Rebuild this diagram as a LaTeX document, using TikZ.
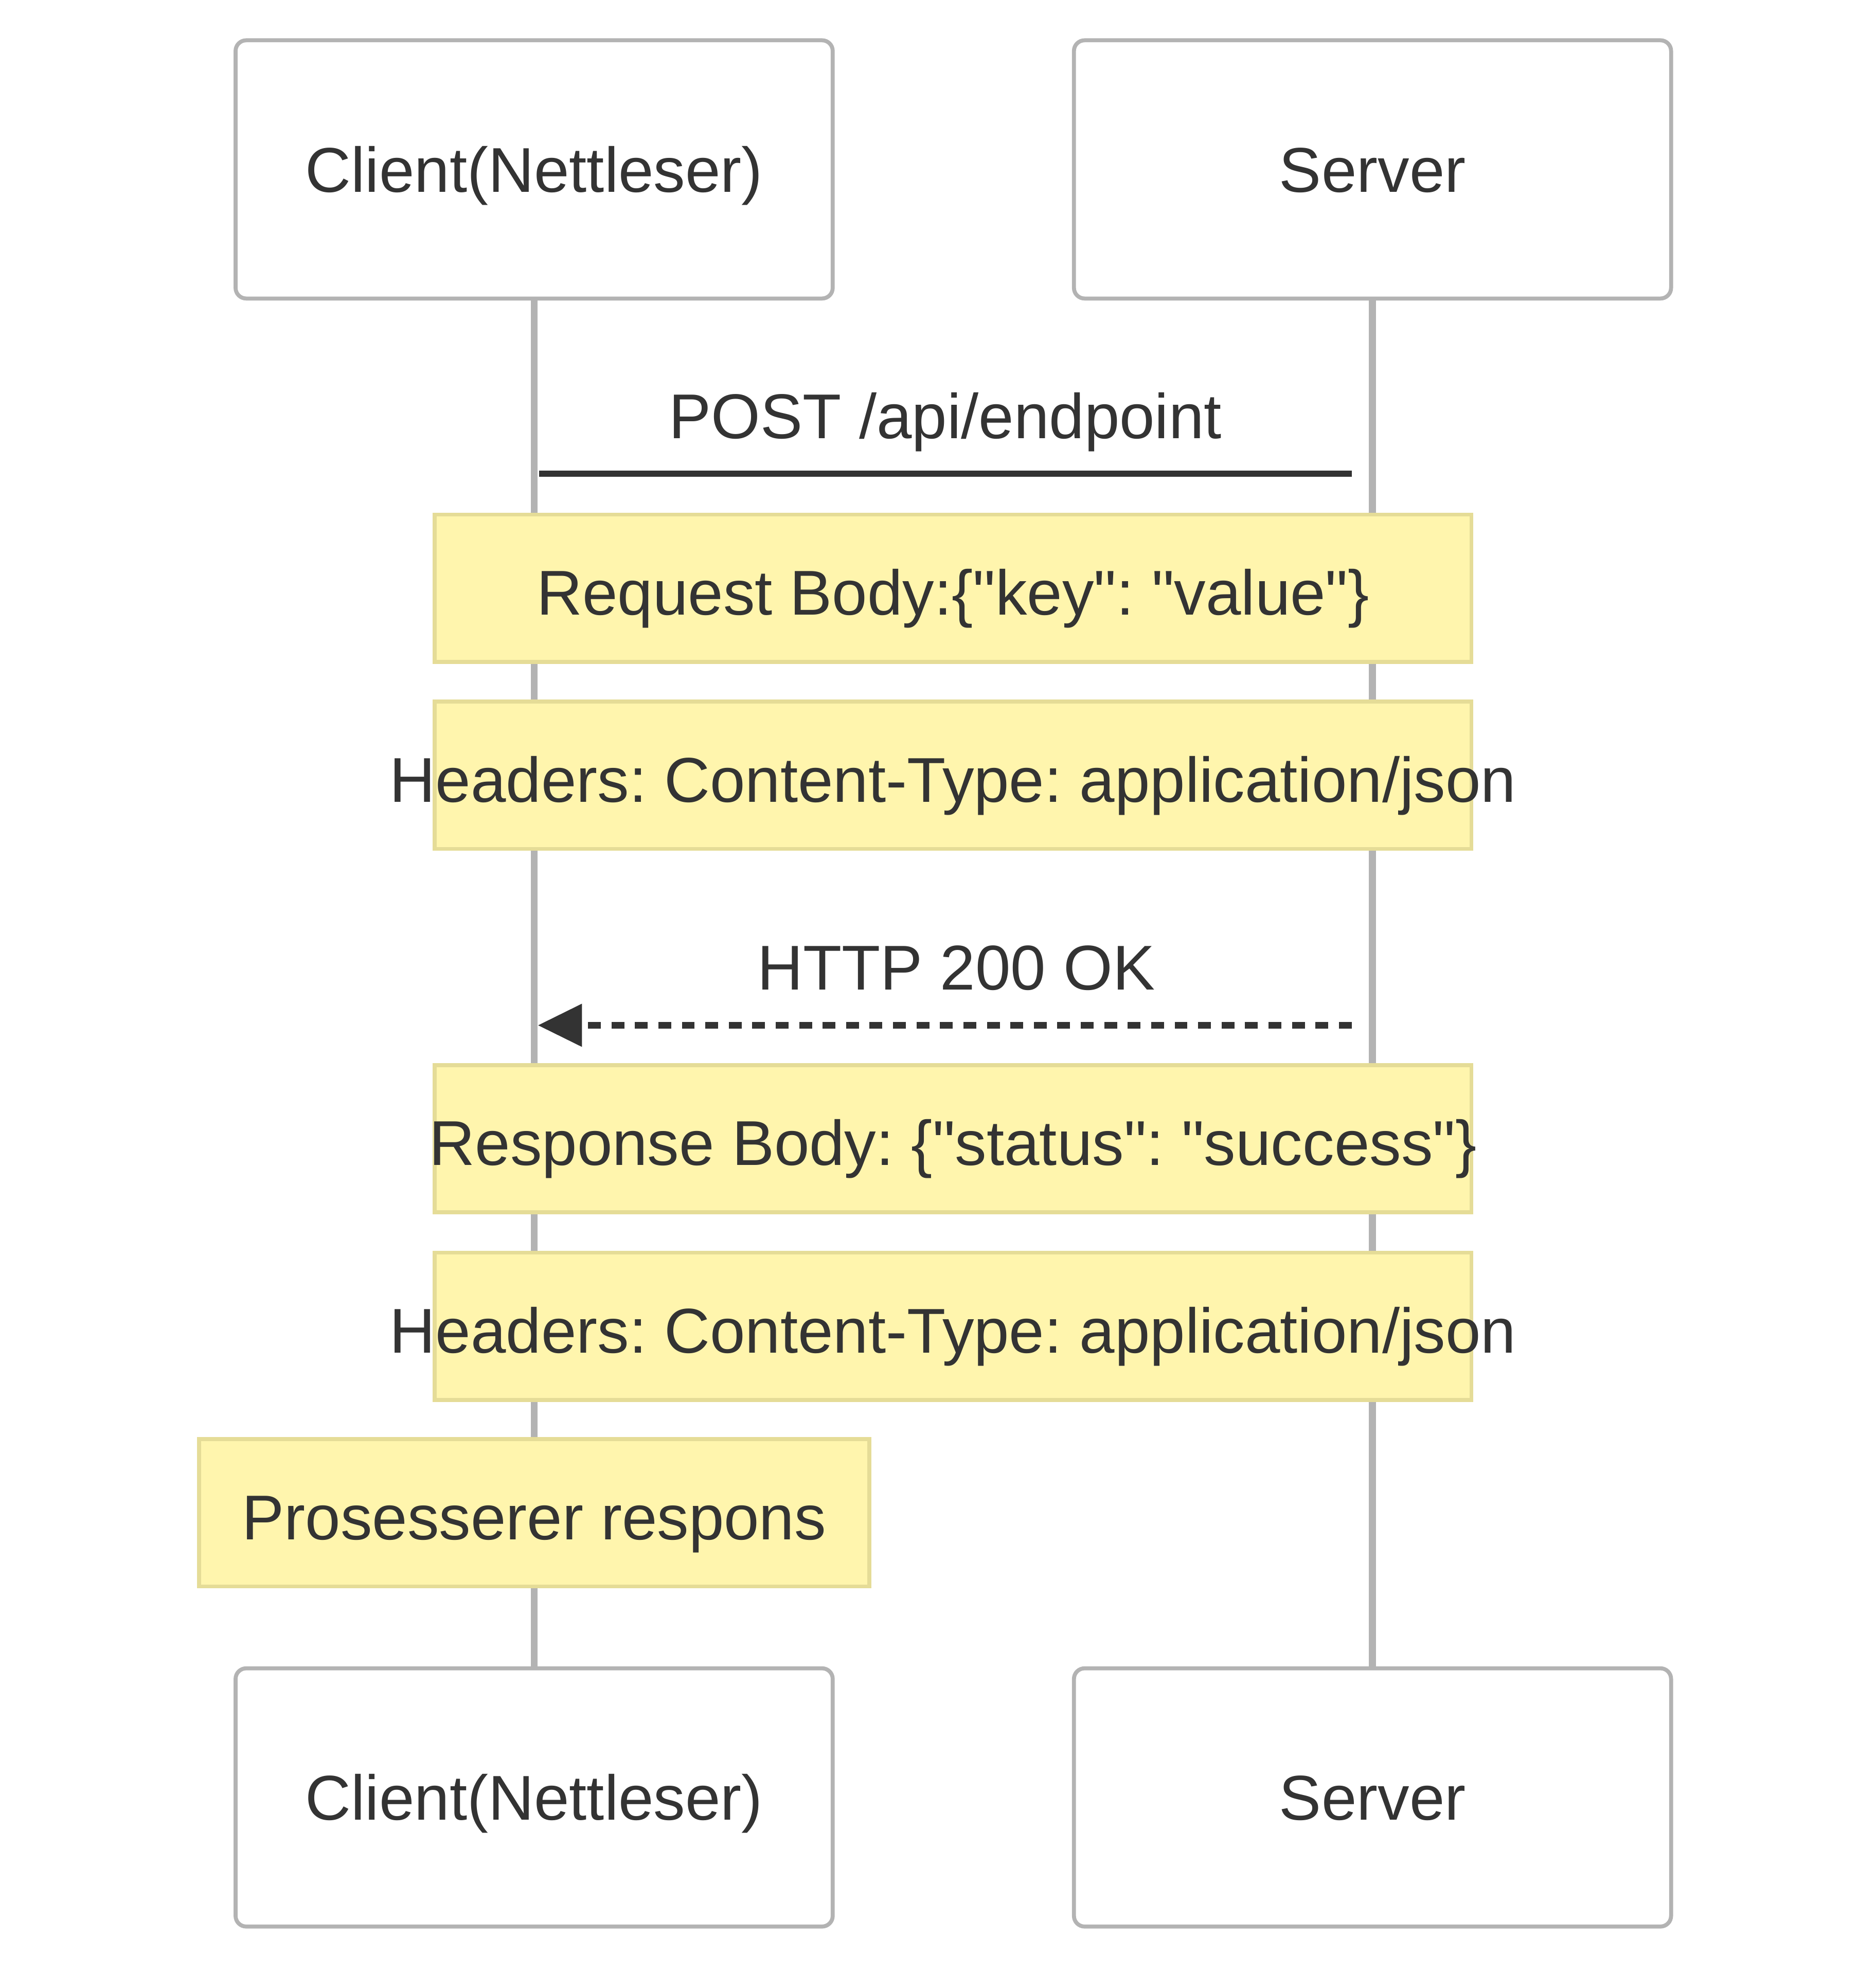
\documentclass[tikz,border=0pt]{standalone}
\usepackage{fontspec}
\setmainfont{Liberation Sans}[Ligatures=TeXOff]
\usetikzlibrary{arrows.meta}
\definecolor{txt}{HTML}{333333}
\definecolor{actline}{HTML}{B3B3B3}
\definecolor{notefill}{HTML}{FFF5AD}
\definecolor{noteline}{HTML}{E5DC97}
\frenchspacing
\begin{document}
\begin{tikzpicture}[
		actor/.style={draw=actline, line width=0.9pt, rounded corners=2.4pt, fill=white, minimum width=4.74cm, minimum height=2.05cm, text=txt, text height=10.2pt, text depth=0pt, font=\fontsize{14.3}{17}\selectfont},
		note/.style={draw=noteline, line width=0.9pt, fill=notefill, minimum width=8.23cm, minimum height=1.17cm, text=txt, text height=12.1pt, text depth=0pt, font=\fontsize{14.3}{17}\selectfont},
		lifeline/.style={draw=actline, line width=1.6pt},
		msg/.style={draw=txt, line width=1.4pt},
		lbl/.style={text=txt, font=\fontsize{14.3}{17}\selectfont, inner sep=0pt}]
			\useasboundingbox (0,0) rectangle (14.89,-15.68);
			\node[actor] (cl1) at (4.24,-1.345) {Client(Nettleser)};
			\node[actor] (sv1) at (10.895,-1.345) {Server};
			\node[actor] (cl2) at (4.24,-14.27) {Client(Nettleser)};
			\node[actor] (sv2) at (10.895,-14.27) {Server};
			\draw[lifeline] (cl1) -- (cl2);
			\draw[lifeline] (sv1) -- (sv2);
			\coordinate (postA) at (4.28,-3.76);
			\coordinate (postB) at (10.73,-3.76);
			\node[lbl, anchor=base] (postlbl) at (7.505,-3.48) {POST /api/endpoint};
			\draw[msg] (postA) -- (postB);
			\node[note] (n1) at (7.565,-4.67) {Request Body:\{"key": "value"\}};
			\node[note] (n2) at (7.565,-6.155) {\makebox[0pt]{Headers: Content-Type: application/json}};
			\coordinate (okA) at (4.27,-8.14);
			\coordinate (okB) at (10.73,-8.14);
			\node[lbl, anchor=base] (oklbl) at (7.59,-7.857) {HTTP 200 OK};
			\draw[msg, dash pattern=on 2.9pt off 2.4pt, -{Triangle[length=0.35cm, width=0.33cm]}] (okB) -- (okA);
			\node[note] (n3) at (7.565,-9.04) {\makebox[0pt]{Response Body: \{"status": "success"\}}};
			\node[note] (n4) at (7.565,-10.53) {\makebox[0pt]{Headers: Content-Type: application/json}};
			\node[note, minimum width=5.32cm] (n5) at (4.24,-12.01) {Prosesserer respons};
		\end{tikzpicture}
\end{document}
